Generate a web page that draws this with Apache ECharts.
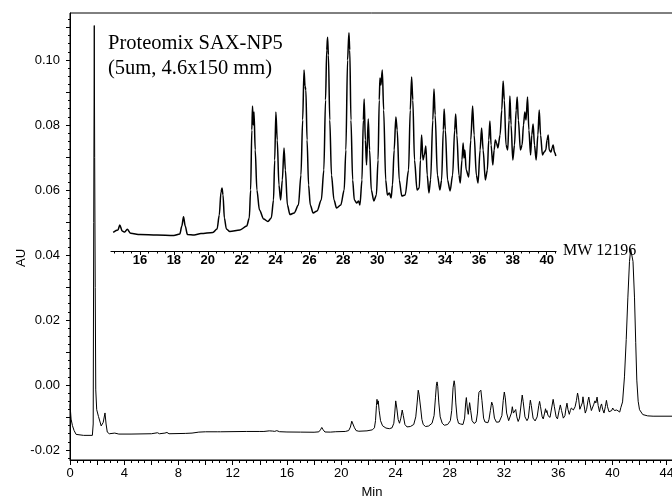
<!DOCTYPE html>
<html><head><meta charset="utf-8">
<script src="https://cdn.jsdelivr.net/npm/echarts@6.0.0/dist/echarts.min.js"></script>
<style>html,body{margin:0;padding:0;background:#fff}#c{width:672px;height:500px}</style>
</head><body><div id="c"></div>
<script>
// ---- data (minutes, AU) ----
const preTimes = [0, 0.08, 0.18, 0.3, 0.45, 0.55, 1.0, 1.65, 1.71, 1.75, 1.79, 1.82, 1.86, 1.9, 1.97, 2.1, 2.3, 2.45, 2.58, 2.66, 2.75, 2.9, 3.3, 3.6, 4.5, 6.0, 6.45, 6.6, 7.0, 7.15, 7.3, 8.5, 9.0, 9.5, 10.0, 10.9, 11.0, 11.1, 13.0, 14.0, 14.3];
const preAU = [-0.0060, -0.0105, -0.0125, -0.0140, -0.0152, -0.0155, -0.0155, -0.0155, -0.0120, 0.0500, 0.1106, 0.0700, 0.0300, -0.0015, -0.0076, -0.0097, -0.0126, -0.0115, -0.0086, -0.0120, -0.0145, -0.0150, -0.0148, -0.0151, -0.0151, -0.0150, -0.0147, -0.0150, -0.0148, -0.0146, -0.0150, -0.0149, -0.0148, -0.0145, -0.0144, -0.0144, -0.0138, -0.0144, -0.0143, -0.0143, -0.0143];

const insetTimes = [14.42,14.70,14.81,14.95,15.10,15.25,15.45,16.00,17.00,18.00,18.35,18.47,18.57,18.67,18.80,19.20,19.60,20.30,20.55,20.68,20.78,20.84,20.90,20.98,21.10,21.30,21.90,22.30,22.45,22.53,22.60,22.64,22.69,22.73,22.80,22.90,23.05,23.30,23.55,23.75,23.88,23.95,24.02,24.10,24.20,24.30,24.40,24.50,24.58,24.70,24.85,25.10,25.35,25.50,25.60,25.68,25.74,25.79,25.86,25.95,26.05,26.22,26.45,26.70,26.85,26.95,27.02,27.07,27.12,27.20,27.30,27.45,27.60,27.85,28.05,28.15,28.25,28.33,28.38,28.45,28.55,28.65,28.80,28.90,28.98,29.10,29.18,29.23,29.30,29.37,29.47,29.55,29.65,29.80,29.95,30.05,30.12,30.16,30.22,30.30,30.38,30.50,30.60,30.72,30.82,30.90,31.00,31.10,31.18,31.30,31.45,31.65,31.85,31.95,32.03,32.10,32.20,32.35,32.48,32.55,32.62,32.70,32.78,32.87,32.95,33.05,33.15,33.28,33.35,33.42,33.55,33.70,33.80,33.90,33.95,34.02,34.15,34.30,34.45,34.57,34.63,34.70,34.82,34.90,35.00,35.07,35.12,35.17,35.25,35.40,35.52,35.63,35.72,35.85,35.95,36.07,36.16,36.25,36.38,36.50,36.58,36.65,36.72,36.82,36.90,36.97,37.04,37.12,37.25,37.35,37.43,37.50,37.60,37.70,37.78,37.83,37.90,38.00,38.10,38.20,38.26,38.33,38.45,38.55,38.63,38.71,38.78,38.87,38.95,39.05,39.12,39.20,39.28,39.38,39.48,39.56,39.64,39.75,39.85,39.95,40.02,40.09,40.15,40.25,40.32,40.38,40.46,40.54];
const insetAU = [-0.01429,-0.01411,-0.01372,-0.01419,-0.01427,-0.01405,-0.01437,-0.01446,-0.01450,-0.01454,-0.01442,-0.01380,-0.01307,-0.01380,-0.01446,-0.01450,-0.01438,-0.01430,-0.01403,-0.01294,-0.01114,-0.01083,-0.01137,-0.01317,-0.01403,-0.01423,-0.01411,-0.01380,-0.01317,-0.01098,-0.00630,-0.00442,-0.00591,-0.00489,-0.00786,-0.01098,-0.01255,-0.01325,-0.01345,-0.01317,-0.01177,-0.00864,-0.00489,-0.00708,-0.01059,-0.01177,-0.01020,-0.00770,-0.00942,-0.01216,-0.01290,-0.01278,-0.01216,-0.00981,-0.00552,-0.00161,-0.00286,-0.00317,-0.00708,-0.01059,-0.01216,-0.01278,-0.01262,-0.01177,-0.00942,-0.00395,-0.00005,0.00095,-0.00044,-0.00552,-0.00981,-0.01177,-0.01239,-0.01216,-0.01098,-0.00786,-0.00083,0.00130,-0.00005,-0.00552,-0.01020,-0.01177,-0.01200,-0.01184,-0.01216,-0.01020,-0.00552,-0.00387,-0.00708,-0.00903,-0.00544,-0.00786,-0.01098,-0.01184,-0.01137,-0.00864,-0.00395,-0.00223,-0.00278,-0.00161,-0.00473,-0.01020,-0.01137,-0.01122,-0.01161,-0.01059,-0.00786,-0.00528,-0.00630,-0.01020,-0.01145,-0.01137,-0.00942,-0.00473,-0.00216,-0.00395,-0.00864,-0.01098,-0.01083,-0.00864,-0.00669,-0.00864,-0.00825,-0.00755,-0.00981,-0.01122,-0.01020,-0.00552,-0.00309,-0.00512,-0.00981,-0.01098,-0.01020,-0.00630,-0.00466,-0.00630,-0.01020,-0.01106,-0.00981,-0.00630,-0.00505,-0.00669,-0.00981,-0.01044,-0.00864,-0.00731,-0.00848,-0.00786,-0.00942,-0.00997,-0.00708,-0.00442,-0.00669,-0.00981,-0.01044,-0.00786,-0.00614,-0.00786,-0.01020,-0.00942,-0.00708,-0.00559,-0.00747,-0.00903,-0.00786,-0.00708,-0.00731,-0.00770,-0.00669,-0.00473,-0.00247,-0.00395,-0.00747,-0.00786,-0.00552,-0.00364,-0.00591,-0.00864,-0.00747,-0.00473,-0.00372,-0.00552,-0.00786,-0.00747,-0.00591,-0.00489,-0.00552,-0.00372,-0.00630,-0.00825,-0.00669,-0.00583,-0.00747,-0.00864,-0.00669,-0.00473,-0.00669,-0.00825,-0.00802,-0.00786,-0.00708,-0.00669,-0.00786,-0.00802,-0.00770,-0.00747,-0.00802,-0.00833];

const postTimes = [40.62, 40.75, 40.89, 41.02, 41.14, 41.26, 41.35, 41.39, 41.43, 41.52, 41.63, 41.72, 41.8, 41.9, 42.0, 42.24, 42.6, 43.0, 46.0];
const postAU = [-0.0070, -0.0052, 0.0025, 0.0140, 0.0268, 0.0380, 0.0418, 0.0420, 0.0418, 0.0380, 0.0268, 0.0130, 0.0015, -0.0050, -0.0076, -0.0091, -0.0095, -0.0096, -0.0096];

const yLabelValues = [-0.02, 0, 0.02, 0.04, 0.06, 0.08, 0.10];
const yMajorTicks = [-0.02, -0.01, 0, 0.01, 0.02, 0.03, 0.04, 0.05, 0.06, 0.07, 0.08, 0.09, 0.10, 0.11];
const insetLabelValues = [16, 18, 20, 22, 24, 26, 28, 30, 32, 34, 36, 38, 40];
const titleLine1 = 'Proteomix SAX-NP5';
const titleLine2 = '(5um, 4.6x150 mm)';
const peakLabel = 'MW 12196';
const xName = 'Min';
const yName = 'AU';

// ---- build ----
const pairs = (t, v) => t.map((x, i) => [x, v[i]]);
const mainData = pairs(preTimes, preAU).concat(pairs(insetTimes, insetAU), pairs(postTimes, postAU));
const insetData = pairs(insetTimes, insetAU);
const yMinor = [];
for (let k = -9; k <= 45; k++) yMinor.push(+(k * 0.0025).toFixed(4));
const insetMinor = [];
for (let k = 29; k <= 81; k++) insetMinor.push(k * 0.5);

const sans = 'Liberation Sans, Arial, sans-serif';
const serif = 'Liberation Serif, Times New Roman, serif';
const black = '#000';

const chart = echarts.init(document.getElementById('c'), null, {renderer: 'canvas'});
chart.setOption({
  animation: false,
  backgroundColor: '#fff',
  grid: [
    {left: 70, top: 13, width: 623.76, height: 447, outerBoundsMode: 'none', containLabel: false,
     show: true, borderColor: black, borderWidth: 1, backgroundColor: 'transparent'},
    {left: 111, top: 20, width: 445, height: 231, outerBoundsMode: 'none', containLabel: false}
  ],
  xAxis: [
    {type: 'value', gridIndex: 0, min: 0, max: 46, interval: 2,
     axisLine: {show: true, onZero: false, lineStyle: {color: black, width: 1}},
     axisTick: {show: true, inside: false, length: 5, lineStyle: {color: black}},
     minorTick: {show: true, splitNumber: 4, length: 3, lineStyle: {color: black}},
     axisLabel: {color: black, fontFamily: sans, fontSize: 13, margin: 7,
       formatter: v => (Math.abs(v % 4) < 1e-9 && v <= 44) ? String(v) : ''},
     splitLine: {show: false}, minorSplitLine: {show: false}},
    {type: 'value', gridIndex: 1, min: 14.29, max: 40.55,
     axisLine: {show: true, onZero: false, lineStyle: {color: black, width: 1.2}},
     axisTick: {show: true, inside: false, length: 4, customValues: insetLabelValues, lineStyle: {color: black}},
     axisLabel: {color: black, fontFamily: sans, fontSize: 13, fontWeight: 'bold', margin: 3, customValues: insetLabelValues},
     splitLine: {show: false}},
    {type: 'value', gridIndex: 1, min: 14.29, max: 40.55, position: 'bottom',
     axisLine: {show: false, onZero: false},
     axisTick: {show: true, inside: false, length: 2.5, customValues: insetMinor, lineStyle: {color: black}},
     axisLabel: {show: false}, splitLine: {show: false}}
  ],
  yAxis: [
    {type: 'value', gridIndex: 0, min: -0.02308, max: 0.11446, position: 'left',
     axisLine: {show: true, onZero: false, lineStyle: {color: black, width: 1}},
     axisTick: {show: true, inside: false, length: 4, customValues: yMajorTicks, lineStyle: {color: black}},
     axisLabel: {color: black, fontFamily: sans, fontSize: 13, margin: 10, customValues: yLabelValues,
       formatter: v => v.toFixed(2)},
     splitLine: {show: false}},
    {type: 'value', gridIndex: 0, min: -0.02308, max: 0.11446, position: 'left',
     axisLine: {show: false, onZero: false},
     axisTick: {show: true, inside: false, length: 2, customValues: yMinor, lineStyle: {color: black}},
     axisLabel: {show: false}, splitLine: {show: false}},
    {type: 'value', gridIndex: 1, min: -0.01575, max: 0.0023, show: false}
  ],
  series: [
    {type: 'line', xAxisIndex: 0, yAxisIndex: 0, data: mainData, showSymbol: false, smooth: false,
     lineStyle: {color: black, width: 1}, clip: true},
    {type: 'line', xAxisIndex: 1, yAxisIndex: 2, data: insetData, showSymbol: false, smooth: 0.3, smoothMonotone: 'x',
     lineStyle: {color: black, width: 1.5}, clip: true}
  ],
  graphic: [
    {type: 'text', x: 108, y: 44, style: {text: titleLine1, font: '20.5px ' + serif, fill: black, align: 'left', verticalAlign: 'middle'}},
    {type: 'text', x: 108, y: 69, style: {text: titleLine2, font: '20.5px ' + serif, fill: black, align: 'left', verticalAlign: 'middle'}},
    {type: 'text', x: 563, y: 251, style: {text: peakLabel, font: '16px ' + serif, fill: black, align: 'left', verticalAlign: 'middle'}},
    {type: 'text', x: 21, y: 258, rotation: Math.PI / 2, style: {text: yName, font: '13px ' + sans, fill: black, align: 'center', verticalAlign: 'middle'}},
    {type: 'text', x: 372, y: 492, style: {text: xName, font: '13px ' + sans, fill: black, align: 'center', verticalAlign: 'middle'}}
  ]
});
</script></body></html>
